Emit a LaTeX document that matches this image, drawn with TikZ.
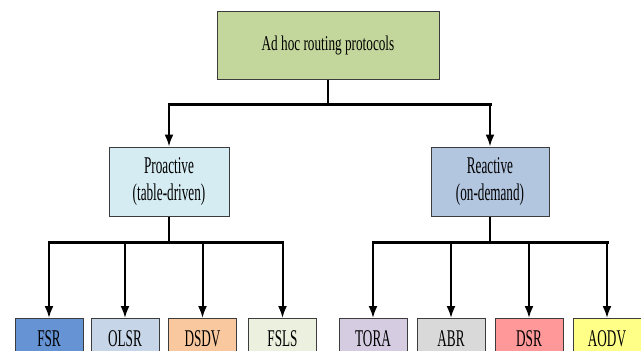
\documentclass[tikz,border=0pt]{standalone}
\usepackage{fontspec}
\setmainfont{Liberation Serif}
\newfontfamily\rootfont[FakeStretch=0.63]{Liberation Serif}
\newfontfamily\boxfont[FakeStretch=0.55]{Liberation Serif}
\usetikzlibrary{arrows.meta}
\definecolor{boxline}{HTML}{3C3C3C}
\definecolor{croot}{HTML}{C3D69B}
\definecolor{cpro}{HTML}{D5ECF2}
\definecolor{crea}{HTML}{B3C6E0}
\definecolor{cfsr}{HTML}{6693D3}
\definecolor{colsr}{HTML}{C6D5E8}
\definecolor{cdsdv}{HTML}{FAC89E}
\definecolor{cfsls}{HTML}{EBF1DE}
\definecolor{ctora}{HTML}{D5CCE2}
\definecolor{cabr}{HTML}{D9D9D9}
\definecolor{cdsr}{HTML}{FF9999}
\definecolor{caodv}{HTML}{FFFF88}
\tikzset{
  >={Latex[length=12pt,width=9pt]},
}
\tikzstyle{box}=[draw=boxline,line width=1pt,inner sep=0pt,align=center]
\tikzstyle{mid}=[box,minimum height=69pt,font=\boxfont\fontsize{24}{27}\selectfont]
\tikzstyle{leaf}=[box,minimum width=68pt,minimum height=40pt,anchor=north,font=\boxfont\fontsize{24}{28}\selectfont]
\tikzstyle{stem}=[line width=1.5pt]
\tikzstyle{link}=[line width=2pt,->]
\tikzstyle{bar}=[line width=3pt,line cap=rect]

\begin{document}
\begin{tikzpicture}[x=1pt,y=-1pt]
  \useasboundingbox (0,0) rectangle (641,351);
  \clip (0,0) rectangle (641,351);
  \node[box,fill=croot,minimum width=222pt,minimum height=68pt,font=\rootfont\fontsize{21}{25}\selectfont] (root) at (328,45) {Ad hoc routing protocols};
  \node[mid,fill=cpro,minimum width=120pt] (pro) at (169,181.5) {Proactive\\(table-driven)};
  \node[mid,fill=crea,minimum width=118pt] (rea) at (490,181.5) {Reactive\\(on-demand)};
  \foreach \t/\x/\c in {FSR/49/cfsr,OLSR/125/colsr,DSDV/202.5/cdsdv,FSLS/282.5/cfsls,
                        TORA/373/ctora,ABR/451/cabr,DSR/529/cdsr,AODV/607/caodv}
    \node[leaf,fill=\c] (\t) at (\x,318) {\t};
  \coordinate (j0) at (328,104);
  \coordinate (j1) at (169,242);
  \coordinate (j2) at (490,242);
  \draw[stem] (root) -- (j0);
  \draw[bar] (pro.north |- j0) -- (rea.north |- j0);
  \draw[link] (pro.north |- j0) -- (pro.north);
  \draw[link] (rea.north |- j0) -- (rea.north);
  \draw[stem] (pro) -- (j1);
  \draw[bar] (FSR.north |- j1) -- (FSLS.north |- j1);
  \foreach \t in {FSR,OLSR,DSDV,FSLS}
    \draw[link] (\t.north |- j1) -- (\t.north);
  \draw[stem] (rea) -- (j2);
  \draw[bar] (TORA.north |- j2) -- (AODV.north |- j2);
  \foreach \t in {TORA,ABR,DSR,AODV}
    \draw[link] (\t.north |- j2) -- (\t.north);
\end{tikzpicture}
\end{document}
